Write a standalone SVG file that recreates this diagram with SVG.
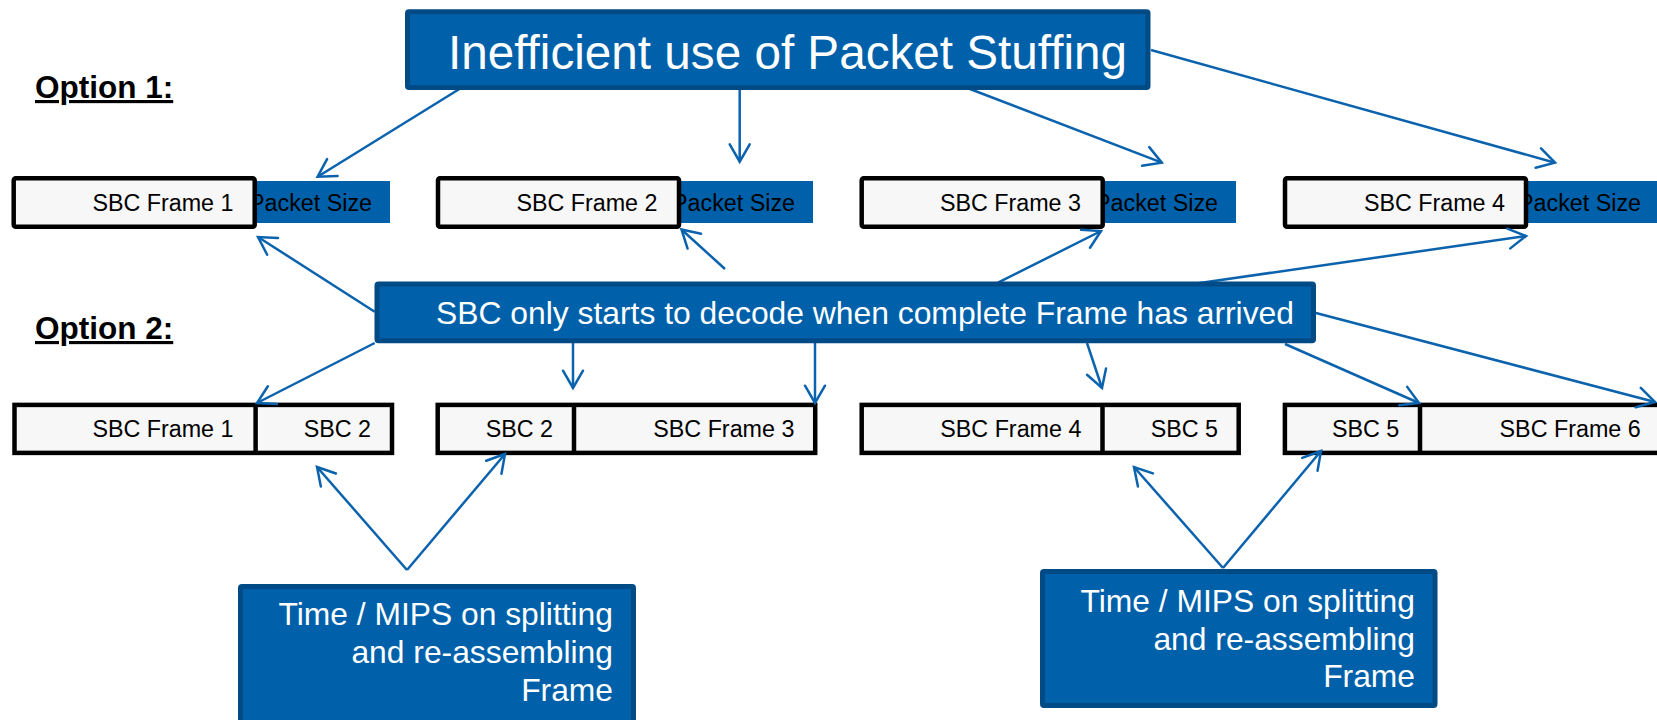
<svg xmlns="http://www.w3.org/2000/svg" width="1657" height="720" viewBox="0 0 1657 720">
<style>
.bluebox{fill:#0061AA;stroke:#004A86;stroke-width:5}
.frame{fill:#F7F7F7;stroke:#000;stroke-width:4.5}
.div{stroke:#000;stroke-width:4.5}
.ps{fill:#0061AA}
.t{font-family:"Liberation Sans",Arial,sans-serif;font-size:23.3px;fill:#000;text-anchor:end}
.w{font-family:"Liberation Sans",Arial,sans-serif;fill:#fff}
.opt{font-family:"Liberation Sans",Arial,sans-serif;font-weight:bold;font-size:31.5px;fill:#000;text-decoration:underline}
.c{fill:none;stroke:#0B62AD;stroke-width:2.5;marker-end:url(#arr)}
</style>
<defs>
<marker id="arr" markerUnits="userSpaceOnUse" markerWidth="26" markerHeight="26" viewBox="-20 -13 26 26" refX="0" refY="0" orient="auto" overflow="visible">
<path d="M-17.3,-10 L0,0 L-17.3,10" fill="none" stroke="#0B62AD" stroke-width="2.5" stroke-linecap="round" stroke-linejoin="miter"/>
</marker>
</defs>
<rect width="1657" height="720" fill="#fff"/>

<g id="label-option1"><text class="opt" x="35" y="98">Option 1:</text></g>
<g id="label-option2"><text class="opt" x="35" y="339">Option 2:</text></g>

<!-- Option 1 row -->
<g id="opt1-frame1">
<rect class="ps" x="250" y="181" width="140" height="42"/>
<text class="t" x="372" y="211">Packet Size</text>
<rect class="frame" x="13.7" y="178.2" width="241" height="48.6" rx="2"/>
<text class="t" x="233.5" y="211">SBC Frame 1</text>
</g>
<g id="opt1-frame2">
<rect class="ps" x="674" y="181" width="139" height="42"/>
<text class="t" x="795" y="211">Packet Size</text>
<rect class="frame" x="438" y="178.2" width="241" height="48.6" rx="2"/>
<text class="t" x="657.5" y="211">SBC Frame 2</text>
</g>
<g id="opt1-frame3">
<rect class="ps" x="1098" y="181" width="138" height="42"/>
<text class="t" x="1218" y="211">Packet Size</text>
<rect class="frame" x="861.7" y="178.2" width="241" height="48.6" rx="2"/>
<text class="t" x="1081" y="211">SBC Frame 3</text>
</g>
<g id="opt1-frame4">
<rect class="ps" x="1522" y="181" width="140" height="42"/>
<text class="t" x="1641" y="211">Packet Size</text>
<rect class="frame" x="1285" y="178.2" width="241" height="48.6" rx="2"/>
<text class="t" x="1505" y="211">SBC Frame 4</text>
</g>

<!-- Option 2 row -->
<g id="opt2-group1">
<rect class="frame" x="14.5" y="404.9" width="377.5" height="48"/>
<line class="div" x1="255.6" y1="404.9" x2="255.6" y2="452.9"/>
<text class="t" x="233.5" y="436.7">SBC Frame 1</text>
<text class="t" x="371" y="436.7">SBC 2</text>
</g>
<g id="opt2-group2">
<rect class="frame" x="437.7" y="404.9" width="377.5" height="48"/>
<line class="div" x1="574" y1="404.9" x2="574" y2="452.9"/>
<text class="t" x="553" y="436.7">SBC 2</text>
<text class="t" x="794.4" y="436.7">SBC Frame 3</text>
</g>
<g id="opt2-group3">
<rect class="frame" x="861.7" y="404.9" width="377" height="48"/>
<line class="div" x1="1102.5" y1="404.9" x2="1102.5" y2="452.9"/>
<text class="t" x="1081.4" y="436.7">SBC Frame 4</text>
<text class="t" x="1218" y="436.7">SBC 5</text>
</g>
<g id="opt2-group4">
<rect class="frame" x="1284.9" y="404.9" width="380" height="48"/>
<line class="div" x1="1420" y1="404.9" x2="1420" y2="452.9"/>
<text class="t" x="1399.3" y="436.7">SBC 5</text>
<text class="t" x="1640.7" y="436.7">SBC Frame 6</text>
</g>

<!-- Connectors -->
<g id="connectors">
<line class="c" x1="461" y1="88" x2="317.6" y2="176.7"/>
<line class="c" x1="739.7" y1="90" x2="739.7" y2="161.7"/>
<line class="c" x1="967.4" y1="88" x2="1161.8" y2="162.7"/>
<line class="c" x1="1151" y1="50" x2="1555" y2="162.7"/>

<line class="c" x1="374.7" y1="311.7" x2="258" y2="237"/>
<line class="c" x1="725" y1="269" x2="681.5" y2="229.5"/>
<line class="c" x1="998" y1="282.7" x2="1101" y2="231"/>
<line class="c" x1="1193" y1="284" x2="1526" y2="236"/>

<line class="c" x1="374.7" y1="343" x2="257" y2="403"/>
<line class="c" x1="573" y1="343" x2="573" y2="388"/>
<line class="c" x1="815" y1="343" x2="815" y2="403"/>
<line class="c" x1="1087" y1="343" x2="1102" y2="388"/>
<line class="c" x1="1285" y1="344" x2="1419" y2="403"/>
<line class="c" x1="1315" y1="312.7" x2="1655" y2="402"/>

<line class="c" x1="407" y1="570" x2="317" y2="467"/>
<line class="c" x1="407" y1="570" x2="505" y2="454"/>
<line class="c" x1="1223" y1="568" x2="1134" y2="467"/>
<line class="c" x1="1223" y1="568" x2="1321" y2="451"/>
</g>

<!-- Blue callout nodes -->
<g id="title">
<rect class="bluebox" x="407.5" y="11.8" width="740.5" height="75.8" rx="1.5"/>
<text class="w" x="448" y="68.5" font-size="47.5" textLength="679" lengthAdjust="spacingAndGlyphs">Inefficient use of Packet Stuffing</text>
</g>
<g id="decode">
<rect class="bluebox" x="377" y="284" width="936.5" height="56.8" rx="1.5"/>
<text class="w" x="436" y="324" font-size="31.6" textLength="858" lengthAdjust="spacingAndGlyphs">SBC only starts to decode when complete Frame has arrived</text>
</g>
<g id="note-left">
<rect class="bluebox" x="240.5" y="586.5" width="393" height="140" rx="1.5"/>
<text class="w" font-size="31.8" text-anchor="end"><tspan x="613" y="625">Time / MIPS on splitting</tspan><tspan x="613" y="663">and re-assembling</tspan><tspan x="613" y="701">Frame</tspan></text>
</g>
<g id="note-right">
<rect class="bluebox" x="1042.5" y="571.5" width="392.5" height="134" rx="1.5"/>
<text class="w" font-size="31.8" text-anchor="end"><tspan x="1415" y="612">Time / MIPS on splitting</tspan><tspan x="1415" y="650">and re-assembling</tspan><tspan x="1415" y="687">Frame</tspan></text>
</g>
</svg>
